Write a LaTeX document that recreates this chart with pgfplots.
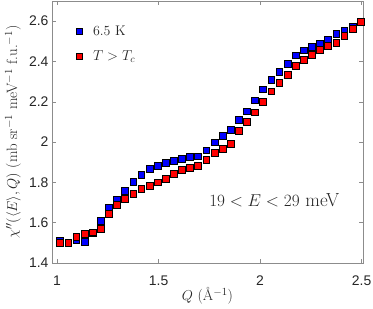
\documentclass[border=0pt]{standalone}
\usepackage{fontspec}
\newfontfamily\ticksf{Liberation Sans}
\usepackage{pgfplots}
\pgfplotsset{compat=1.18}
\pgfplotstableread{
x y
1.015 1.512
1.055 1.501
1.095 1.516
1.135 1.506
1.175 1.548
1.215 1.610
1.255 1.676
1.295 1.716
1.335 1.759
1.375 1.803
1.415 1.837
1.455 1.868
1.495 1.884
1.535 1.896
1.575 1.909
1.615 1.919
1.655 1.925
1.695 1.929
1.735 1.959
1.775 1.999
1.815 2.032
1.855 2.061
1.895 2.110
1.935 2.153
1.975 2.207
2.015 2.262
2.055 2.310
2.095 2.348
2.135 2.389
2.175 2.431
2.215 2.455
2.255 2.473
2.295 2.489
2.335 2.507
2.375 2.538
2.415 2.554
2.455 2.574
2.495 2.595
}\lowT
\pgfplotstableread{
x y
1.015 1.502
1.055 1.499
1.095 1.529
1.135 1.545
1.175 1.552
1.215 1.569
1.255 1.645
1.295 1.688
1.335 1.718
1.375 1.742
1.415 1.767
1.455 1.784
1.495 1.800
1.535 1.818
1.575 1.842
1.615 1.863
1.655 1.873
1.695 1.883
1.735 1.913
1.775 1.946
1.815 1.967
1.855 1.992
1.895 2.054
1.935 2.100
1.975 2.148
2.015 2.199
2.055 2.252
2.095 2.293
2.135 2.334
2.175 2.379
2.215 2.408
2.255 2.435
2.295 2.457
2.335 2.477
2.375 2.493
2.415 2.526
2.455 2.562
2.495 2.598
}\highT
\begin{document}
\begin{tikzpicture}
\begin{axis}[
  scale only axis,
  width=311bp, height=262bp,
  xmin=0.975, xmax=2.507,
  ymin=1.4, ymax=2.7,
  xtick={1,1.5,2,2.5},
  ytick={1.4,1.6,1.8,2,2.2,2.4,2.6},
  tick align=inside,
  major tick length=4bp,
  axis line style={draw=black!45},
  every tick/.style={draw=black!45},
  /pgf/number format/assume math mode=true,
  ticklabel style={font=\ticksf\fontsize{14}{16}\selectfont, text=black!85},
  xticklabel style={yshift=-9bp},
  xlabel={$Q$ (\AA$^{-1}$)},
  ylabel={$\chi''(\langle E\rangle,Q)$ (mb sr$^{-1}$ meV$^{-1}$ f.u.$^{-1}$)},
  label style={font=\fontsize{15}{17}\selectfont, text=black!85},
  xlabel style={at={(axis description cs:0.5,0)}, anchor=center, yshift=-33bp},
  ylabel style={at={([xshift=-39bp]axis description cs:0,0.5)}, anchor=center},
  legend style={draw=none, fill=none, at={(axis description cs:0.075,0.912)}, anchor=north west,
    font=\fontsize{14}{16}\selectfont, inner sep=0pt, row sep=11bp, text=black!85,
    nodes={inner sep=1.5bp}},
  legend cell align=left,
  legend image code/.code={\path (0cm,0cm) (0.55cm,0cm);\draw[#1, mark size=3.1bp] plot coordinates {(0.12cm,0cm)};},
]
\addplot[only marks, mark=square*, mark size=3.4bp, mark options={fill=blue, draw=black, line width=0.6pt}] table[x=x,y=y] {\lowT};
\addlegendentry{6.5 K}
\addplot[only marks, mark=square*, mark size=3.4bp, mark options={fill=red, draw=black, line width=0.6pt}] table[x=x,y=y] {\highT};
\addlegendentry{$T>T_c$}
\node[font=\fontsize{19}{21}\selectfont, text=black!85] at (axis cs:2.07,1.709) {$19<E<29$ meV};
\coordinate (SW) at (rel axis cs:0,0);
\coordinate (NE) at (rel axis cs:1,1);
\end{axis}
\pgfresetboundingbox
\path ([shift={(-52bp,-46bp)}]SW) rectangle ([shift={(10bp,1bp)}]NE);
\end{tikzpicture}
\end{document}
